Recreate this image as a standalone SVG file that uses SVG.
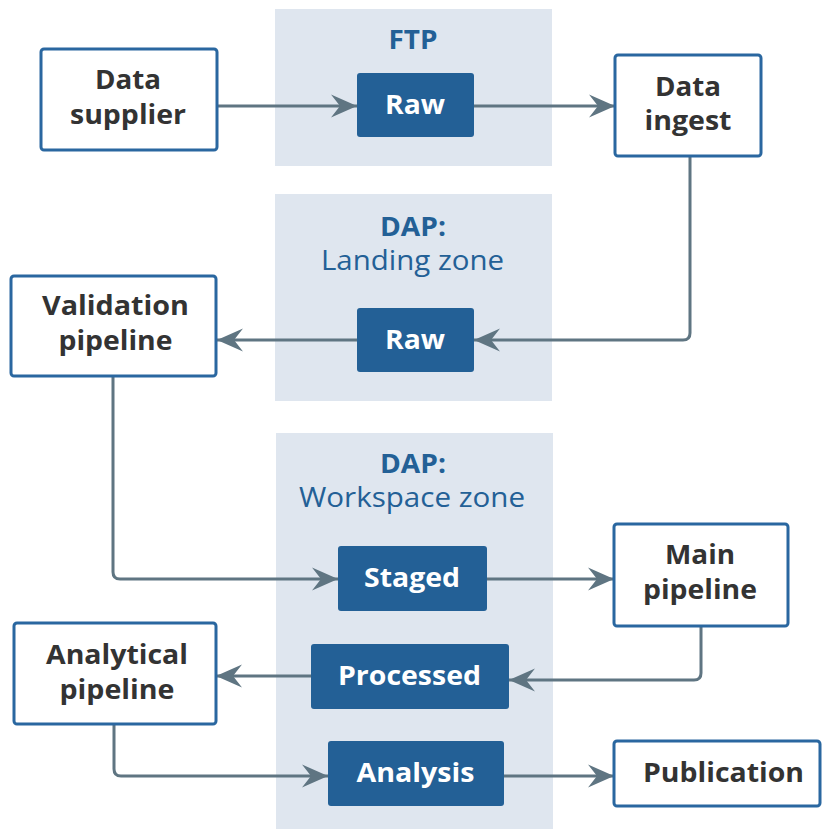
<svg xmlns="http://www.w3.org/2000/svg" width="822" height="829" viewBox="0 0 822 829">
<style>
.zone{fill:#dfe6ef}
.node rect{fill:#ffffff;stroke:#2a67a0;stroke-width:3}
.node text{font-family:"Open Sans","Liberation Sans",sans-serif;font-weight:700;font-size:26.5px;fill:#333333;text-anchor:middle}
.store rect{fill:#236096}
.store text{font-family:"Open Sans","Liberation Sans",sans-serif;font-weight:700;font-size:27px;fill:#ffffff;text-anchor:middle}
.zl{font-family:"Open Sans","Liberation Sans",sans-serif;font-size:27px;fill:#236096;text-anchor:middle}
.zl.b{font-weight:700}
#connectors path{fill:none;stroke:#5f7582;stroke-width:3;marker-end:url(#ah)}
</style>
<defs>
<marker id="ah" markerUnits="userSpaceOnUse" markerWidth="30" markerHeight="26" viewBox="-27 -13 28 26" refX="0" refY="0" orient="auto">
<path d="M0,0 L-26,-11.5 L-17,0 L-26,11.5 Z" fill="#5f7582"/>
</marker>
</defs>
<rect width="822" height="829" fill="#ffffff"/>
<g id="zone-ftp">
<rect class="zone" x="275" y="9" width="277" height="157"/>
<text class="zl b" x="413" y="49" textLength="49" lengthAdjust="spacingAndGlyphs">FTP</text>
</g>
<g id="zone-landing">
<rect class="zone" x="275" y="194" width="277" height="207"/>
<text class="zl b" x="413" y="236" textLength="66" lengthAdjust="spacingAndGlyphs">DAP:</text>
<text class="zl" x="412.5" y="270" textLength="183" lengthAdjust="spacingAndGlyphs">Landing zone</text>
</g>
<g id="zone-workspace">
<rect class="zone" x="276" y="433" width="277" height="396"/>
<text class="zl b" x="413" y="473" textLength="66" lengthAdjust="spacingAndGlyphs">DAP:</text>
<text class="zl" x="412" y="507" textLength="226" lengthAdjust="spacingAndGlyphs">Workspace zone</text>
</g>
<g id="connectors">
<path d="M217,106 H357"/>
<path d="M474,106 H615"/>
<path d="M690,156 V333 Q690,340 683,340 H474"/>
<path d="M357,340 H217"/>
<path d="M113,376 V572 Q113,579 120,579 H338"/>
<path d="M487,579 H614"/>
<path d="M701,626 V673 Q701,680 694,680 H509"/>
<path d="M311,676 H216"/>
<path d="M114,724 V769 Q114,776 121,776 H328"/>
<path d="M504,776 H614"/>
</g>
<g id="data-supplier" class="node">
<rect x="41" y="49" width="176" height="101" rx="3"/>
<text x="128" y="89" textLength="66" lengthAdjust="spacingAndGlyphs">Data</text>
<text x="128" y="124" textLength="116" lengthAdjust="spacingAndGlyphs">supplier</text>
</g>
<g id="raw-ftp" class="store">
<rect x="357" y="73" width="117" height="64" rx="3"/>
<text x="415" y="114" textLength="60" lengthAdjust="spacingAndGlyphs">Raw</text>
</g>
<g id="data-ingest" class="node">
<rect x="615" y="55" width="146" height="101" rx="3"/>
<text x="688" y="96" textLength="66" lengthAdjust="spacingAndGlyphs">Data</text>
<text x="688" y="130" textLength="87" lengthAdjust="spacingAndGlyphs">ingest</text>
</g>
<g id="raw-landing" class="store">
<rect x="357" y="308" width="117" height="64" rx="3"/>
<text x="415" y="349" textLength="60" lengthAdjust="spacingAndGlyphs">Raw</text>
</g>
<g id="validation-pipeline" class="node">
<rect x="11" y="276" width="205" height="100" rx="3"/>
<text x="115.5" y="315" textLength="147" lengthAdjust="spacingAndGlyphs">Validation</text>
<text x="115.5" y="349.5" textLength="114" lengthAdjust="spacingAndGlyphs">pipeline</text>
</g>
<g id="staged" class="store">
<rect x="338" y="546" width="149" height="65" rx="3"/>
<text x="412" y="587" textLength="96" lengthAdjust="spacingAndGlyphs">Staged</text>
</g>
<g id="main-pipeline" class="node">
<rect x="614" y="524" width="174" height="102" rx="3"/>
<text x="700" y="564" textLength="70" lengthAdjust="spacingAndGlyphs">Main</text>
<text x="700" y="598.5" textLength="114" lengthAdjust="spacingAndGlyphs">pipeline</text>
</g>
<g id="processed" class="store">
<rect x="311" y="644" width="198" height="65" rx="3"/>
<text x="409.5" y="685" textLength="143" lengthAdjust="spacingAndGlyphs">Processed</text>
</g>
<g id="analytical-pipeline" class="node">
<rect x="14" y="623" width="202" height="101" rx="3"/>
<text x="117" y="664" textLength="142" lengthAdjust="spacingAndGlyphs">Analytical</text>
<text x="117" y="698.5" textLength="115" lengthAdjust="spacingAndGlyphs">pipeline</text>
</g>
<g id="analysis" class="store">
<rect x="328" y="741" width="176" height="65" rx="3"/>
<text x="415.5" y="782" textLength="118" lengthAdjust="spacingAndGlyphs">Analysis</text>
</g>
<g id="publication" class="node">
<rect x="614" y="741" width="206" height="65" rx="3"/>
<text x="723.5" y="782" textLength="161" lengthAdjust="spacingAndGlyphs">Publication</text>
</g>
</svg>
